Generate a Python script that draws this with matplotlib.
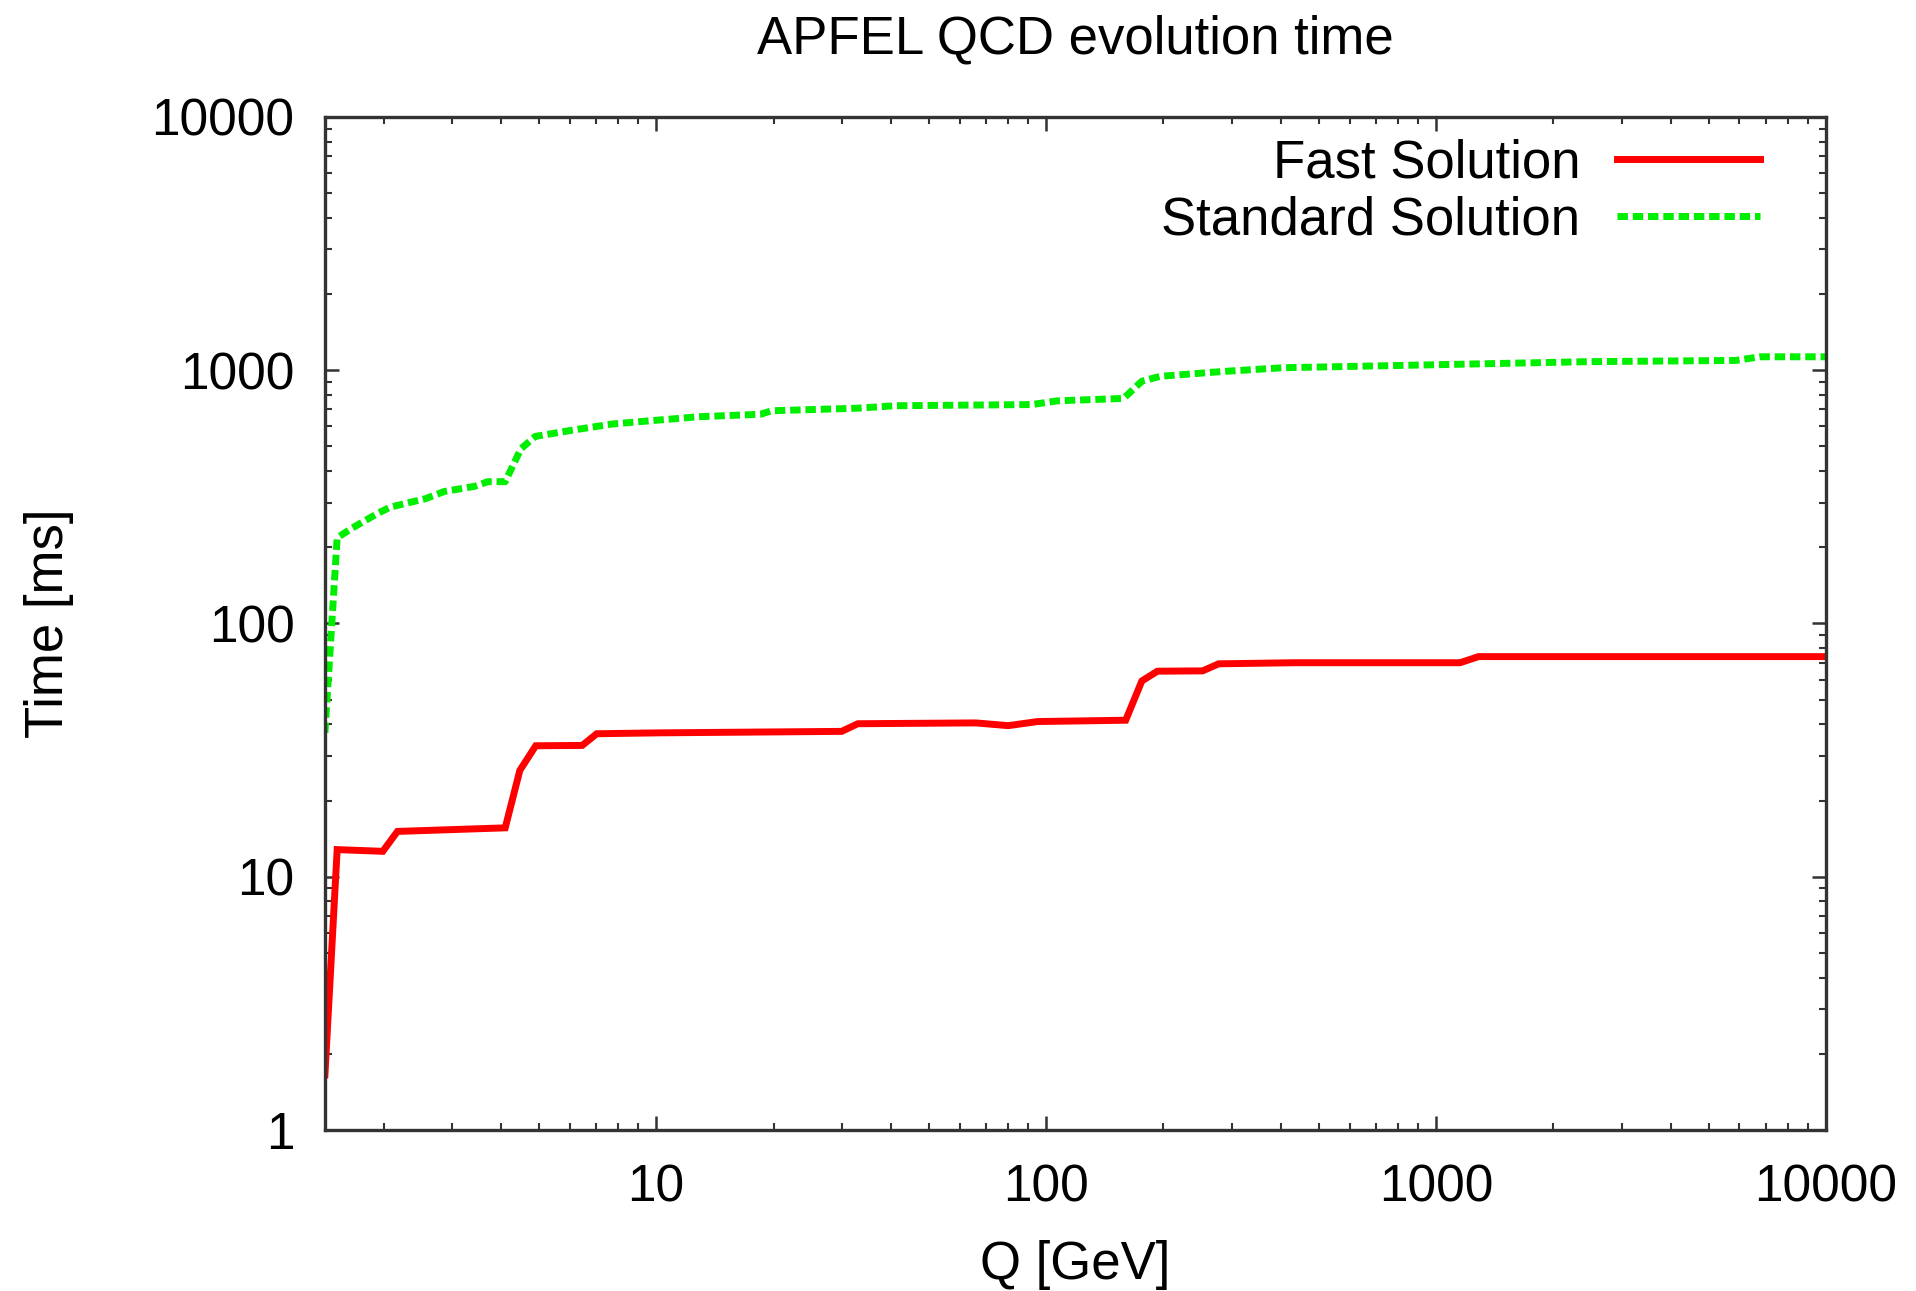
import matplotlib
matplotlib.use("Agg")
import matplotlib.pyplot as plt
from matplotlib.ticker import FixedLocator, FixedFormatter, LogLocator, NullFormatter

# ---- data ----
fast_q = [1.414, 1.52, 1.99, 2.17, 4.1, 4.47, 4.91, 6.46, 7.04, 10.2, 29.9, 32.9,
          66, 80, 95, 160, 176, 193, 252, 277, 434, 1153, 1285, 10000]
fast_t = [1.65, 12.8, 12.6, 15.1, 15.6, 26.3, 32.9, 33.0, 36.7, 37.0, 37.5, 40.2,
          40.5, 39.5, 41.0, 41.5, 59.3, 64.8, 65.0, 69.3, 70.0, 70.0, 74.0, 74.0]

std_q = [1.414, 1.52, 1.66, 1.93, 2.08, 2.56, 2.86, 3.42, 3.7, 4.1, 4.5, 4.9, 6.1,
         7.7, 8.9, 12.8, 18.5, 19.8, 32.8, 41, 92, 107, 158, 176, 196, 282, 405,
         580, 1194, 2460, 5860, 6780, 10000]
std_t = [37, 218, 238, 272, 288, 311, 332, 348, 363, 363, 490, 548, 580,
         613, 625, 655, 670, 692, 708, 724, 732, 757, 774, 905, 946, 988, 1023,
         1034, 1057, 1081, 1093, 1130, 1130]

x_ticks = [10, 100, 1000, 10000]
x_tick_labels = ["10", "100", "1000", "10000"]
y_ticks = [1, 10, 100, 1000, 10000]
y_tick_labels = ["1", "10", "100", "1000", "10000"]

title = "APFEL QCD evolution time"
xlabel = "Q [GeV]"
ylabel = "Time [ms]"
labels = ["Fast Solution", "Standard Solution"]

plt.rcParams['font.family'] = ['Liberation Sans', 'DejaVu Sans']

fig = plt.figure(figsize=(19.16, 12.91), dpi=100)
ax = fig.add_axes([0.1696, 0.1247, 0.953 - 0.1696, 0.9094 - 0.1247])

ax.plot(fast_q, fast_t, color='#ff0000', lw=5, label=labels[0],
        solid_joinstyle='miter')
ax.plot(std_q, std_t, color='#00ee00', lw=5, linestyle=(0, (1.5, 0.7)),
        dash_capstyle='butt', label=labels[1])

ax.set_xscale('log')
ax.set_yscale('log')
ax.set_xlim(1.41421, 10000)
ax.set_ylim(1, 10000)

ax.xaxis.set_major_locator(FixedLocator(x_ticks))
ax.xaxis.set_major_formatter(FixedFormatter(x_tick_labels))
ax.yaxis.set_major_locator(FixedLocator(y_ticks))
ax.yaxis.set_major_formatter(FixedFormatter(y_tick_labels))
ax.xaxis.set_minor_locator(LogLocator(base=10, subs=range(2, 10), numticks=20))
ax.yaxis.set_minor_locator(LogLocator(base=10, subs=range(2, 10), numticks=20))
ax.xaxis.set_minor_formatter(NullFormatter())
ax.yaxis.set_minor_formatter(NullFormatter())

ax.tick_params(which='both', direction='in', top=True, right=True,
               colors='#333333', labelcolor='black', labelsize=37)
ax.tick_params(which='major', length=10, width=1.8, pad=22)
ax.tick_params(which='minor', length=5, width=1.5)
ax.tick_params(axis='x', which='major', pad=24)

for s in ax.spines.values():
    s.set_linewidth(2.4)
    s.set_color('#333333')

ax.set_title(title, fontsize=38, pad=46)
ax.set_xlabel(xlabel, fontsize=38, labelpad=20)
ax.set_ylabel(ylabel, fontsize=38, labelpad=56)

leg = ax.legend(loc='upper right', bbox_to_anchor=(0.956, 0.979),
                frameon=False, markerfirst=False, fontsize=38,
                handlelength=2.7, handletextpad=0.7, labelspacing=0.13,
                borderpad=0, borderaxespad=0)

fig.savefig("out.png", dpi=100, facecolor='white')
